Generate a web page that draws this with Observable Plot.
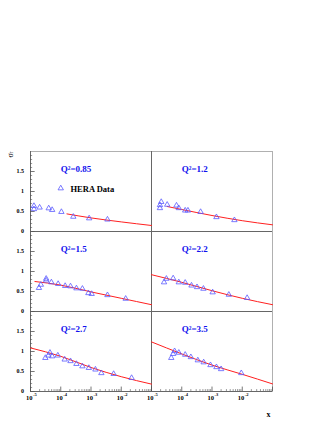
<!DOCTYPE html>
<html><head><meta charset="utf-8">
<script src="https://cdn.jsdelivr.net/npm/d3@7"></script>
<script src="https://cdn.jsdelivr.net/npm/@observablehq/plot@0.6"></script>
<style>body{margin:0;background:#fff} svg{display:block}</style>
</head><body><div id="chart"></div>
<script>
// ---- data ----
const q2Labels = ["Q²=0.85", "Q²=1.2", "Q²=1.5", "Q²=2.2", "Q²=2.7", "Q²=3.5"];

const dataX = [
  [1.3e-5, 1.3e-5, 2e-5, 4e-5, 5.2e-5, 1.05e-4, 2.6e-4, 8.7e-4, 3.5e-3],
  [1.9e-5, 1.9e-5, 2.1e-5, 3.3e-5, 6.7e-5, 8e-5, 1.3e-4, 1.6e-4, 4.2e-4, 1.4e-3, 5.5e-3],
  [1.9e-5, 2.2e-5, 3.3e-5, 3.3e-5, 4.9e-5, 8.2e-5, 1.4e-4, 2.1e-4, 3.3e-4, 5.2e-4, 8.2e-4, 1.05e-3, 3.5e-3, 1.4e-2],
  [2.6e-5, 3.1e-5, 5.2e-5, 8e-5, 1.3e-4, 2.1e-4, 3.2e-4, 5.2e-4, 1.05e-3, 3.6e-3, 1.45e-2],
  [3.1e-5, 3.9e-5, 4.4e-5, 5.2e-5, 8e-5, 1.35e-4, 2.1e-4, 3.3e-4, 5.2e-4, 8.5e-4, 1.4e-3, 2.2e-3, 5.6e-3, 2.2e-2],
  [4.5e-5, 5.2e-5, 5.8e-5, 8e-5, 1.3e-4, 2e-4, 3.4e-4, 5.3e-4, 8.9e-4, 1.4e-3, 2e-3, 9.3e-3]
];
const dataY = [
  [0.56, 0.64, 0.60, 0.58, 0.54, 0.49, 0.37, 0.33, 0.30],
  [0.585, 0.66, 0.74, 0.67, 0.65, 0.585, 0.525, 0.525, 0.49, 0.36, 0.285],
  [0.59, 0.67, 0.82, 0.775, 0.73, 0.69, 0.64, 0.63, 0.58, 0.57, 0.46, 0.44, 0.41, 0.32],
  [0.73, 0.82, 0.83, 0.73, 0.72, 0.65, 0.61, 0.57, 0.48, 0.42, 0.34],
  [0.84, 0.90, 0.97, 0.88, 0.90, 0.80, 0.76, 0.69, 0.63, 0.59, 0.55, 0.46, 0.44, 0.34],
  [0.84, 0.94, 1.01, 0.97, 0.92, 0.86, 0.78, 0.73, 0.66, 0.61, 0.56, 0.46]
];
const curveX = [
  [1.6e-4, 1e-3, 1e-2, 1e-1],
  [3.3e-5, 1e-4, 1e-3, 1e-2, 1e-1],
  [1.4e-5, 1e-4, 1e-3, 1e-2, 1e-1],
  [1e-5, 1e-4, 1e-3, 1e-2, 1e-1],
  [1e-5, 1e-4, 1e-3, 1e-2, 1e-1],
  [1e-5, 1e-4, 1e-3, 1e-2, 1e-1]
];
const curveY = [
  [0.44, 0.34, 0.24, 0.15],
  [0.625, 0.55, 0.40, 0.27, 0.167],
  [0.75, 0.66, 0.49, 0.33, 0.17],
  [0.92, 0.73, 0.52, 0.33, 0.17],
  [1.09, 0.88, 0.60, 0.37, 0.185],
  [1.24, 0.94, 0.66, 0.43, 0.19]
];
const yTickLabels = [0, 0.5, 1, 1.5];
const yMinorTicks = [0.1,0.2,0.3,0.4,0.6,0.7,0.8,0.9,1.1,1.2,1.3,1.4,1.6,1.7,1.8,1.9];
const xDecades = [1e-5, 1e-4, 1e-3, 1e-2, 1e-1];
const xExponents = ["-5", "-4", "-3", "-2", "-1"];

// ---- layout ----
const W = 327, H = 423, ML = 30, MR = 54.3, MT = 150, MB = 31.3;
const colW = (W - ML - MR) / 2, rowH = (H - MT - MB) / 3;
const FONT = "Liberation Serif, Times New Roman, serif";

const cell = i => ({col: i % 2, row: Math.floor(i / 2)});
const points = [], curves = [], labels = [];
dataX.forEach((xs, i) => xs.forEach((x, j) => points.push({x, y: dataY[i][j], ...cell(i)})));
curveX.forEach((xs, i) => xs.forEach((x, j) => curves.push({x, y: curveY[i][j], k: i, ...cell(i)})));
q2Labels.forEach((t, i) => labels.push({t, ...cell(i)}));

const rows = [0, 1, 2];
const yMaj = rows.flatMap(row => [0, 0.5, 1, 1.5].map(v => ({v, row, col: 0})));
const yMin = rows.flatMap(row => yMinorTicks.map(v => ({v, row, col: 0})));
const yLab = rows.flatMap(row => yTickLabels.map(v => ({v, row, col: 0})));
const xMaj = [0, 1].flatMap(col => xDecades.map(v => ({v, col, row: 2})));
const xMin = [0, 1].flatMap(col => xDecades.slice(0, 4).flatMap(d => [2,3,4,5,6,7,8,9].map(m => ({v: d * m, col, row: 2}))));
const xLab = [0, 1].flatMap(col => xDecades.slice(0, 4).map((v, i) => ({v, e: xExponents[i], col, row: 2})));

const fc = {fx: "col", fy: "row"};
const chart = Plot.plot({
  width: W, height: H,
  marginLeft: ML, marginRight: MR, marginTop: MT, marginBottom: MB,
  style: {fontFamily: FONT, background: "white"},
  fx: {domain: [0, 1], padding: 0, axis: null},
  fy: {domain: [0, 1, 2], padding: 0, axis: null},
  x: {type: "log", domain: [1e-5, 1e-1], axis: null},
  y: {domain: [0, 2], axis: null},
  marks: [
    Plot.frame({stroke: "#b0b0b0", strokeWidth: 1}),
    Plot.ruleY([0], {stroke: "#666", strokeWidth: 1}),
    Plot.ruleX([1e-5], {stroke: "#666", strokeWidth: 1}),
    Plot.tickY(yMaj, {y: "v", ...fc, stroke: "#555", strokeWidth: 0.8, insetRight: colW - 5}),
    Plot.tickY(yMin, {y: "v", ...fc, stroke: "#555", strokeWidth: 0.6, insetRight: colW - 2.5}),
    Plot.tickX(xMaj, {x: "v", ...fc, stroke: "#555", strokeWidth: 0.8, insetTop: rowH - 5}),
    Plot.tickX(xMin, {x: "v", ...fc, stroke: "#555", strokeWidth: 0.6, insetTop: rowH - 2.5}),
    Plot.text(yLab, {y: "v", ...fc, text: d => String(d.v), frameAnchor: "left", dx: -6.5, textAnchor: "end", fontSize: 6, fontWeight: "bold", fill: "#000"}),
    Plot.text(xLab, {x: "v", ...fc, text: () => "10", frameAnchor: "bottom", dx: 2, dy: 8, textAnchor: "end", fontSize: 6.5, fontWeight: "bold", fill: "#000"}),
    Plot.text(xLab, {x: "v", ...fc, text: "e", frameAnchor: "bottom", dx: 2.5, dy: 4, textAnchor: "start", fontSize: 4.5, fontWeight: "bold", fill: "#000"}),
    Plot.line(curves, {x: "x", y: "y", z: "k", ...fc, stroke: "#ff2020", strokeWidth: 1, curve: "monotone-x"}),
    Plot.dot(points, {x: "x", y: "y", ...fc, symbol: "triangle", r: 2, stroke: "#5a5aff", strokeWidth: 0.8, fill: "none"}),
    Plot.text(labels, {x: () => 1e-4, y: () => 1.57, ...fc, text: "t", textAnchor: "start", fontSize: 9, fontWeight: "bold", fill: "#1010ee"}),
    Plot.dot([{col: 0, row: 0}], {x: () => 1e-4, y: () => 1.08, ...fc, symbol: "triangle", r: 2, stroke: "#5a5aff", strokeWidth: 0.8, fill: "none"}),
    Plot.text([{col: 0, row: 0}], {x: () => 2.1e-4, y: () => 1.06, ...fc, text: () => "HERA Data", textAnchor: "start", fontSize: 8.5, fontWeight: "bold", fill: "#000"}),
    Plot.text([{col: 0, row: 0}], {...fc, text: () => "σ", frameAnchor: "top-left", dx: -23, dy: 6, rotate: -90, fontSize: 8, fill: "#000"}),
    Plot.text([{col: 0, row: 0}], {...fc, text: () => "r", frameAnchor: "top-left", dx: -21, dy: 2, rotate: -90, fontSize: 5.5, fill: "#000"}),
    Plot.text([{col: 1, row: 2}], {...fc, text: () => "x", frameAnchor: "bottom-right", dx: -2, dy: 25, fontSize: 8, fontWeight: "bold", fill: "#000"})
  ]
});
document.getElementById("chart").appendChild(chart);
</script>
</body></html>
